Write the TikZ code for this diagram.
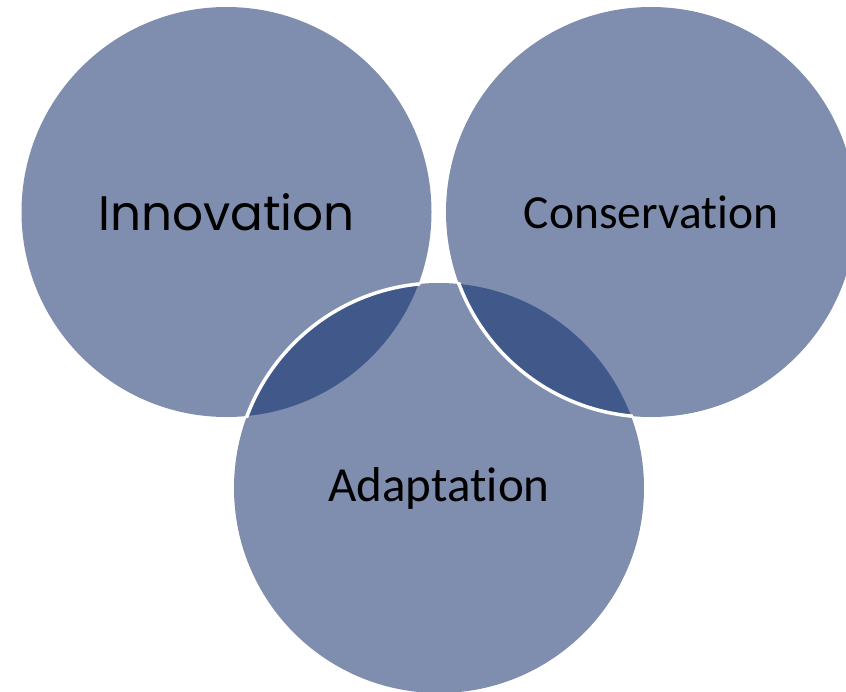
\documentclass[tikz,border=0pt]{standalone}
\usepackage{fontspec}
\setmainfont[Ligatures={NoCommon,NoRequired,NoContextual}]{Carlito}
\newfontfamily\geofont{Poppins}
\definecolor{lightblue}{HTML}{7F8EAF}
\definecolor{darkblue}{HTML}{41598A}
\begin{document}
\begin{tikzpicture}[x=1pt,y=-1pt,
  bubble/.style={circle, fill=lightblue, minimum size=410pt, inner sep=0pt},
  label/.style={text=black, inner sep=0pt}]
\useasboundingbox (0,0) rectangle (846,691);
\node[bubble] (inn) at (226.5,212) {};
\node[bubble] (ada) at (439,488) {};
\node[bubble] (con) at (651,212) {};
% lenses
\begin{scope}
  \clip (226.5,212) circle[radius=205pt];
  \fill[darkblue] (439,488) circle[radius=205pt];
\end{scope}
\begin{scope}
  \clip (651,212) circle[radius=205pt];
  \fill[darkblue] (439,488) circle[radius=205pt];
\end{scope}
% white edges
\begin{scope}
  \clip (226.5,212) circle[radius=207pt];
  \draw[white, line width=3.5pt] (439,488) circle[radius=205pt];
\end{scope}
\begin{scope}
  \clip (439,488) circle[radius=207pt];
  \draw[white, line width=3.5pt] (651,212) circle[radius=205pt];
\end{scope}
\node[label, font=\geofont\fontsize{48.5}{58}\selectfont] (tinn) at (inn.center) {Innovation};
\node[label, font=\fontsize{47.5}{56}\selectfont] (tcon) at (con.center) {Conservat\kern0pt ion};
\node[label, font=\fontsize{49}{58}\selectfont] (tada) at (ada.center) {Adaptat\kern0pt ion};
\end{tikzpicture}
\end{document}
